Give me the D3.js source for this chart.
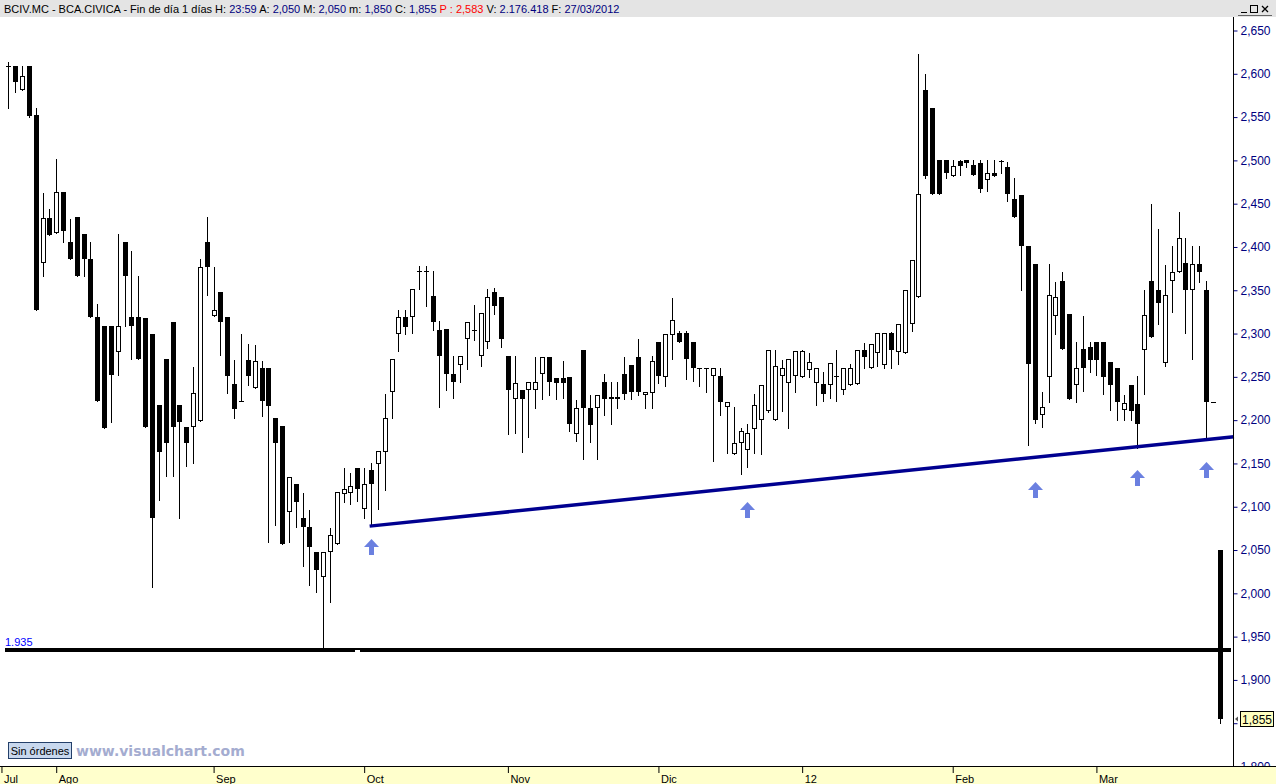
<!DOCTYPE html>
<html><head><meta charset="utf-8">
<script src="https://cdn.jsdelivr.net/npm/d3@7"></script>
<style>body{margin:0;background:#fff;overflow:hidden}svg{display:block}</style>
</head><body><svg id="c" width="1276" height="784"></svg>
<script>
// ---- data (daily candles 21/07/2011 .. 27/03/2012) ----
const openP = [2.609,2.609,2.581,2.609,2.552,2.381,2.434,2.416,2.463,2.406,
2.435,2.415,2.386,2.319,2.309,2.309,2.279,2.406,2.319,2.319,
2.318,2.300,2.217,2.271,2.313,2.217,2.192,2.192,2.199,2.406,
2.320,2.348,2.319,2.242,2.222,2.270,2.237,2.260,2.260,2.203,
2.193,2.094,2.126,2.087,2.077,2.048,2.019,2.048,2.057,2.115,
2.116,2.145,2.097,2.143,2.149,2.163,2.232,2.300,2.319,2.319,
2.372,2.372,2.343,2.304,2.305,2.253,2.264,2.294,2.304,2.274,
2.290,2.348,2.342,2.274,2.224,2.235,2.235,2.235,2.253,2.273,
2.249,2.249,2.250,2.184,2.281,2.214,2.214,2.244,2.224,2.227,
2.253,2.264,2.273,2.229,2.231,2.290,2.250,2.298,2.301,2.301,
2.290,2.260,2.260,2.251,2.251,2.215,2.161,2.174,2.166,2.190,
2.200,2.211,2.200,2.251,2.243,2.251,2.250,2.258,2.243,2.242,
2.241,2.251,2.235,2.241,2.242,2.281,2.260,2.277,2.264,2.301,
2.279,2.278,2.311,2.342,2.581,2.560,2.500,2.500,2.482,2.499,
2.500,2.495,2.497,2.477,2.485,2.499,2.492,2.455,2.460,2.401,
2.380,2.206,2.250,2.320,2.361,2.323,2.241,2.282,2.285,2.290,
2.290,2.267,2.260,2.212,2.241,2.219,2.281,2.361,2.350,2.266,
2.361,2.371,2.382,2.350,2.380,2.350,2.221,2.050];
const highP = [2.614,2.609,2.609,2.609,2.560,2.462,2.444,2.502,2.463,2.432,
2.435,2.415,2.406,2.334,2.309,2.309,2.415,2.406,2.395,2.366,
2.318,2.300,2.217,2.271,2.313,2.217,2.192,2.261,2.386,2.435,
2.377,2.348,2.319,2.270,2.300,2.288,2.287,2.268,2.260,2.203,
2.193,2.134,2.126,2.116,2.096,2.048,2.048,2.075,2.117,2.145,
2.139,2.145,2.145,2.151,2.164,2.230,2.271,2.327,2.327,2.351,
2.378,2.378,2.372,2.314,2.305,2.274,2.274,2.313,2.333,2.324,
2.351,2.353,2.342,2.274,2.274,2.235,2.244,2.273,2.273,2.273,
2.249,2.268,2.250,2.223,2.281,2.229,2.229,2.253,2.244,2.244,
2.273,2.264,2.294,2.233,2.274,2.290,2.300,2.341,2.303,2.303,
2.290,2.260,2.260,2.260,2.260,2.221,2.215,2.191,2.196,2.230,
2.241,2.281,2.281,2.270,2.271,2.280,2.281,2.278,2.260,2.256,
2.266,2.281,2.260,2.265,2.281,2.289,2.288,2.301,2.301,2.302,
2.311,2.350,2.385,2.623,2.600,2.560,2.500,2.500,2.500,2.500,
2.500,2.500,2.500,2.500,2.500,2.500,2.498,2.480,2.460,2.401,
2.380,2.232,2.380,2.359,2.371,2.323,2.290,2.320,2.290,2.290,
2.290,2.267,2.260,2.229,2.241,2.251,2.350,2.450,2.421,2.379,
2.401,2.440,2.410,2.401,2.401,2.361,2.221,2.050];
const lowP = [2.560,2.579,2.581,2.550,2.327,2.366,2.414,2.416,2.406,2.386,
2.366,2.366,2.319,2.222,2.191,2.198,2.252,2.309,2.271,2.271,
2.192,2.007,2.108,2.135,2.135,2.087,2.147,2.150,2.199,2.345,
2.320,2.275,2.231,2.203,2.222,2.241,2.237,2.205,2.059,2.079,
2.057,2.059,2.077,2.031,2.010,2.001,1.937,1.990,2.057,2.106,
2.103,2.107,2.087,2.080,2.097,2.119,2.203,2.280,2.299,2.301,
2.352,2.332,2.304,2.215,2.235,2.225,2.244,2.259,2.293,2.263,
2.283,2.323,2.284,2.184,2.185,2.163,2.180,2.214,2.224,2.229,
2.224,2.225,2.187,2.176,2.155,2.175,2.155,2.206,2.195,2.214,
2.224,2.224,2.229,2.214,2.214,2.243,2.240,2.271,2.290,2.247,
2.245,2.240,2.232,2.153,2.206,2.162,2.161,2.138,2.146,2.162,
2.161,2.209,2.200,2.211,2.191,2.233,2.250,2.250,2.217,2.222,
2.225,2.222,2.230,2.241,2.242,2.260,2.260,2.263,2.260,2.260,
2.265,2.278,2.303,2.342,2.480,2.461,2.461,2.480,2.482,2.483,
2.492,2.483,2.463,2.465,2.482,2.486,2.453,2.435,2.350,2.171,
2.197,2.192,2.221,2.300,2.282,2.224,2.221,2.234,2.256,2.252,
2.230,2.212,2.200,2.200,2.200,2.168,2.230,2.296,2.311,2.263,
2.325,2.371,2.301,2.271,2.359,2.180,2.221,1.850];
const closeP = [2.609,2.590,2.598,2.551,2.327,2.434,2.414,2.463,2.419,2.386,
2.366,2.386,2.319,2.222,2.191,2.252,2.309,2.366,2.309,2.271,
2.192,2.087,2.163,2.174,2.192,2.198,2.174,2.231,2.377,2.377,
2.327,2.313,2.251,2.213,2.222,2.251,2.268,2.222,2.216,2.174,
2.057,2.134,2.105,2.077,2.053,2.027,2.048,2.067,2.117,2.121,
2.124,2.121,2.126,2.126,2.164,2.203,2.271,2.319,2.308,2.351,
2.372,2.372,2.313,2.274,2.253,2.244,2.274,2.313,2.304,2.324,
2.342,2.332,2.294,2.235,2.243,2.224,2.244,2.244,2.273,2.244,
2.243,2.243,2.195,2.214,2.214,2.194,2.229,2.224,2.227,2.224,
2.230,2.233,2.233,2.233,2.268,2.251,2.300,2.316,2.290,2.271,
2.260,2.260,2.260,2.260,2.221,2.221,2.174,2.188,2.185,2.217,
2.241,2.281,2.263,2.260,2.271,2.280,2.280,2.267,2.260,2.230,
2.266,2.251,2.260,2.260,2.281,2.273,2.288,2.301,2.301,2.281,
2.311,2.350,2.385,2.461,2.482,2.461,2.461,2.485,2.493,2.493,
2.497,2.483,2.467,2.485,2.482,2.498,2.461,2.435,2.401,2.265,
2.200,2.215,2.344,2.342,2.282,2.224,2.260,2.260,2.270,2.270,
2.250,2.241,2.221,2.220,2.211,2.196,2.321,2.296,2.335,2.345,
2.371,2.410,2.350,2.380,2.371,2.221,2.221,1.855];

const monthIdx = [-1, 7, 30, 52, 73, 95, 116, 138, 159];
const monthLabels = ["Jul","Ago","Sep","Oct","Nov","Dic","12","Feb","Mar"];
const yTicks = [1.80,1.85,1.90,1.95,2.00,2.05,2.10,2.15,2.20,2.25,2.30,2.35,2.40,2.45,2.50,2.55,2.60,2.65];

const supportLevel = 1.935;
const trendIdx = [52.8, 179.1];
const trendVal = [2.0776, 2.1808];
const arrowIdx = [53, 108, 150, 165, 175];
const arrowVal = [2.0626, 2.1052, 2.1283, 2.1422, 2.1514];
const lastPrice = 1.855;

const headerParts = [
  ["BCIV.MC - BCA.CIVICA - Fin de día 1 días H: ","#000"],["23:59","#000080"],
  [" A: ","#000"],["2,050","#000080"],[" M: ","#000"],["2,050","#000080"],
  [" m: ","#000"],["1,850","#000080"],[" C: ","#000"],["1,855","#000080"],
  [" P : 2,583","#ff0000"],[" V: ","#000"],["2.176.418","#000080"],
  [" F: ","#000"],["27/03/2012","#000080"]];

// ---- drawing ----
const svg = d3.select("#c");
const W = 1276, H = 784;
const axisX = 1233, plotTop = 17, plotBottom = 767;
const n = openP.length;
const x = d3.scaleLinear().domain([0, n-1]).range([8.3, 1219.6]);
const y = d3.scaleLinear().domain([1.80, 2.65]).range([766.5, 30.5]);
const fmt = d => d.toFixed(3).replace(".", ",");

svg.append("rect").attr("width", W).attr("height", H).attr("fill", "#fff");

// candles
const g = svg.append("g").attr("shape-rendering", "crispEdges");
const data = d3.range(n).map(i => ({i, o: openP[i], h: highP[i], l: lowP[i], c: closeP[i]}));
data.forEach(d => {
  const cx = Math.round(x(d.i));
  const yh = Math.round(y(d.h)), yl = Math.round(y(d.l));
  const top = Math.round(y(Math.max(d.o, d.c))), bot = Math.round(y(Math.min(d.o, d.c)));
  if (yl > yh) g.append("line").attr("x1", cx + 0.5).attr("x2", cx + 0.5)
    .attr("y1", yh).attr("y2", yl + 1).attr("stroke", "#000").attr("stroke-width", 1);
  if (d.c < d.o) {
    g.append("rect").attr("x", cx - 2).attr("y", top).attr("width", 5)
      .attr("height", Math.max(1, bot - top)).attr("fill", "#000");
  } else if (d.c > d.o) {
    g.append("rect").attr("x", cx - 1.5).attr("y", top + 0.5).attr("width", 4)
      .attr("height", Math.max(1, bot - top - 1)).attr("fill", "#fff").attr("stroke", "#000");
  } else {
    g.append("line").attr("x1", cx - 2).attr("x2", cx + 3).attr("y1", top + 0.5).attr("y2", top + 0.5)
      .attr("stroke", "#000").attr("stroke-width", 1);
  }
});

// support line
const ys = Math.round(y(supportLevel));
svg.append("line").attr("x1", 5).attr("x2", 1231).attr("y1", ys).attr("y2", ys)
  .attr("stroke", "#000").attr("stroke-width", 4).attr("shape-rendering", "crispEdges");
svg.append("rect").attr("x", 355).attr("y", ys).attr("width", 5).attr("height", 3).attr("fill", "#fff");
svg.append("text").attr("x", 5).attr("y", ys - 4).text("1.935")
  .attr("font-family", "Liberation Sans, Arial, sans-serif").attr("font-size", 11).attr("fill", "#0000ff");

// trend line
svg.append("line").attr("x1", x(trendIdx[0])).attr("y1", y(trendVal[0]))
  .attr("x2", x(trendIdx[1])).attr("y2", y(trendVal[1]))
  .attr("stroke", "#000090").attr("stroke-width", 3.5);

// arrows
arrowIdx.forEach((ai, k) => {
  const ax = Math.round(x(ai)) + 0.5, ay = Math.round(y(arrowVal[k]));
  svg.append("path").attr("fill", "#6b80e0")
    .attr("d", `M${ax},${ay} L${ax+7.5},${ay+8} L${ax+2.5},${ay+8} L${ax+2.5},${ay+16} L${ax-2.5},${ay+16} L${ax-2.5},${ay+8} L${ax-7.5},${ay+8} Z`);
});

// right axis (the 1,850 label sits under the last-price box, as in the reference)
const ax = svg.append("g").attr("transform", `translate(${axisX + 0.5},0)`)
  .call(d3.axisRight(y).tickValues(yTicks).tickFormat(d => Math.abs(d - lastPrice) < 0.01 ? "" : fmt(d)).tickSize(4).tickPadding(3));
ax.select(".domain").remove();
ax.selectAll(".tick line").attr("stroke", "#000080");
ax.selectAll(".tick text").attr("fill", "#000080").attr("font-size", 12)
  .attr("font-family", "Liberation Sans, Arial, sans-serif");
svg.append("line").attr("x1", axisX + 0.5).attr("x2", axisX + 0.5).attr("y1", plotTop).attr("y2", plotBottom)
  .attr("stroke", "#000");

// last price box
const yl = Math.round(y(lastPrice));
svg.append("rect").attr("x", 1240.5).attr("y", yl - 7.5).attr("width", 33).attr("height", 15)
  .attr("fill", "#ffffc0").attr("stroke", "#000");
svg.append("text").attr("x", 1257).attr("y", yl + 4.5).attr("text-anchor", "middle").text(fmt(lastPrice))
  .attr("font-family", "Liberation Sans, Arial, sans-serif").attr("font-size", 12).attr("fill", "#000");
svg.append("path").attr("d", `M${1235},${yl} L${1238},${yl-2.5} L${1238},${yl+2.5} Z`).attr("fill", "#555");

// bottom date band
svg.append("rect").attr("x", 0).attr("y", plotBottom).attr("width", W).attr("height", H - plotBottom).attr("fill", "#ffffcc");
svg.append("line").attr("x1", 0).attr("x2", W).attr("y1", plotBottom - 0.5).attr("y2", plotBottom - 0.5).attr("stroke", "#000");
const bx = svg.append("g").attr("transform", `translate(0,${plotBottom})`)
  .call(d3.axisBottom(x).tickValues(monthIdx).tickFormat((d, i) => monthLabels[i]).tickSize(6).tickPadding(4));
bx.select(".domain").remove();
bx.selectAll(".tick line").attr("stroke", "#000");
bx.selectAll(".tick text").attr("text-anchor", "start").attr("x", 2).attr("dy", "0.55em")
  .attr("font-family", "Liberation Sans, Arial, sans-serif").attr("font-size", 11).attr("fill", "#000");

// header band
svg.append("rect").attr("x", 0).attr("y", 0).attr("width", W).attr("height", plotTop).attr("fill", "#e4e4e4");
const ht = svg.append("text").attr("x", 4).attr("y", 12.5).attr("xml:space", "preserve")
  .attr("font-family", "Liberation Sans, Arial, sans-serif").attr("font-size", 11);
headerParts.forEach(p => ht.append("tspan").attr("fill", p[1]).text(p[0]));
// window buttons
svg.append("line").attr("x1", 1241).attr("x2", 1247).attr("y1", 12.5).attr("y2", 12.5).attr("stroke", "#000");
svg.append("rect").attr("x", 1250.5).attr("y", 5.5).attr("width", 7).attr("height", 7).attr("fill", "none").attr("stroke", "#000");
svg.append("path").attr("d", "M1262,6 L1268,12 M1268,6 L1262,12").attr("stroke", "#000").attr("stroke-width", 1.3);
svg.append("line").attr("x1", 1238).attr("x2", 1272).attr("y1", 15.5).attr("y2", 15.5).attr("stroke", "#666");

// footer button + watermark
svg.append("rect").attr("x", 8.5).attr("y", 742.5).attr("width", 63).attr("height", 16)
  .attr("fill", "#c8d8ee").attr("stroke", "#24406a");
svg.append("text").attr("x", 40).attr("y", 754.5).attr("text-anchor", "middle").text("Sin órdenes")
  .attr("font-family", "Liberation Sans, Arial, sans-serif").attr("font-size", 11).attr("fill", "#000");
svg.append("text").attr("x", 76).attr("y", 756).text("www.visualchart.com")
  .attr("font-family", "DejaVu Sans, sans-serif").attr("font-weight", "bold").attr("font-size", 14).attr("fill", "#a4acd0");
</script>
</body></html>
